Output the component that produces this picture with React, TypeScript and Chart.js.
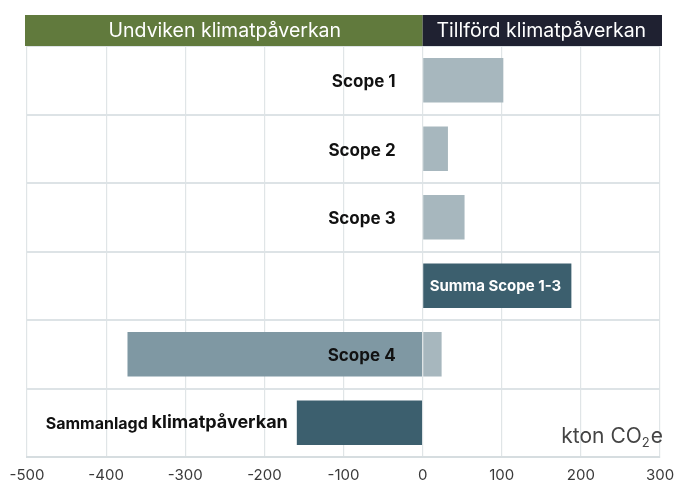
import React, { useEffect, useRef } from "react";
import { Chart, registerables } from "chart.js";

Chart.register(...registerables);

const categories = [
  "Scope 1",
  "Scope 2",
  "Scope 3",
  "Summa Scope 1-3",
  "Scope 4",
  "Sammanlagd klimatpåverkan",
];
const addedValues = [102, 32, 53, null, 24, null];
const summaryValues = [null, null, null, 188, null, -159];
const avoidedValues = [null, null, null, null, -373, null];
const xMin = -500;
const xMax = 300;
const xStep = 100;
const headerLeft = "Undviken klimatpåverkan";
const headerRight = "Tillförd klimatpåverkan";
const unitMain = "kton CO";
const unitSub = "2";
const unitEnd = "e";

const FONT = "Inter, 'Noto Sans', sans-serif";

const overlayPlugin = {
  id: "overlay",
  afterDatasetsDraw(chart: any) {
    const ctx = chart.ctx;
    const xs = chart.scales.x;
    const ys = chart.scales.y;
    const area = chart.chartArea;
    const zero = xs.getPixelForValue(0);
    ctx.save();
    // header bands
    const hTop = 15;
    const hBottom = area.top;
    ctx.fillStyle = "#617a3d";
    ctx.fillRect(area.left - 2, hTop, zero - area.left + 2, hBottom - hTop);
    ctx.fillStyle = "#1f2131";
    ctx.fillRect(zero, hTop, area.right + 2 - zero, hBottom - hTop);
    ctx.fillStyle = "#ffffff";
    ctx.font = `400 19.5px ${FONT}`;
    ctx.textAlign = "center";
    ctx.textBaseline = "middle";
    ctx.fillText(headerLeft, (area.left + zero) / 2, (hTop + hBottom) / 2 + 1);
    ctx.fillText(headerRight, (zero + area.right) / 2, (hTop + hBottom) / 2 + 1);

    // category labels
    categories.forEach((label, i) => {
      const y = ys.getPixelForValue(i) + 2;
      if (i === 3) {
        ctx.fillStyle = "#ffffff";
        ctx.font = `700 15px ${FONT}`;
        ctx.textAlign = "left";
        ctx.fillText(label, zero + 7, y - 1);
      } else if (i === 5) {
        const v = summaryValues[i] as number;
        const endX = xs.getPixelForValue(v) - 9;
        const parts = label.split(" ");
        ctx.fillStyle = "#111111";
        ctx.textAlign = "right";
        ctx.font = `700 18px ${FONT}`;
        const second = parts.slice(1).join(" ");
        const w2 = ctx.measureText(second).width;
        ctx.fillText(second, endX, y - 2);
        ctx.font = `700 16px ${FONT}`;
        ctx.fillText(parts[0] + " ", endX - w2, y - 1);
      } else {
        ctx.fillStyle = "#111111";
        ctx.font = `700 17px ${FONT}`;
        ctx.textAlign = "right";
        ctx.fillText(label, zero - 27, y);
      }
    });

    // unit label with subscript
    ctx.fillStyle = "#444444";
    ctx.textAlign = "left";
    const uy = ys.getPixelForValue(5) + 14;
    const big = `400 21px ${FONT}`;
    const small = `400 13px ${FONT}`;
    ctx.font = big;
    const wMain = ctx.measureText(unitMain).width;
    const wEnd = ctx.measureText(unitEnd).width;
    ctx.font = small;
    const wSub = ctx.measureText(unitSub).width + 1;
    const startX = area.right + 3 - (wMain + wSub + wEnd);
    ctx.font = big;
    ctx.fillText(unitMain, startX, uy);
    ctx.fillText(unitEnd, startX + wMain + wSub, uy);
    ctx.font = small;
    ctx.fillText(unitSub, startX + wMain, uy + 6);
    ctx.restore();
  },
};

export default function App() {
  const ref = useRef<HTMLCanvasElement | null>(null);
  useEffect(() => {
    if (!ref.current) return;
    const chart = new Chart(ref.current, {
      type: "bar",
      data: {
        labels: categories,
        datasets: [
          {
            data: addedValues as any,
            backgroundColor: "#a7b7be",
            barPercentage: 0.65,
            categoryPercentage: 1,
          },
          {
            data: summaryValues as any,
            backgroundColor: "#3c5f6e",
            barPercentage: 0.65,
            categoryPercentage: 1,
          },
          {
            data: avoidedValues as any,
            backgroundColor: "#7f98a3",
            barPercentage: 0.65,
            categoryPercentage: 1,
          },
        ],
      },
      options: {
        indexAxis: "y",
        responsive: false,
        animation: false,
        layout: { padding: { left: 27, right: 15, top: 46, bottom: 0 } },
        plugins: {
          legend: { display: false },
          tooltip: { enabled: false },
        },
        scales: {
          x: {
            type: "linear",
            stacked: true,
            min: xMin,
            max: xMax,
            ticks: {
              stepSize: xStep,
              color: "#3a3a3a",
              font: { family: FONT, size: 15 },
              padding: 9,
            },
            grid: { color: "#e0e5e7", drawTicks: false, lineWidth: 1.2 },
            border: { color: "#d6dde0", width: 2 },
            afterFit: (scale: any) => {
              scale.height = 25;
              scale.paddingLeft = 0;
              scale.paddingRight = 0;
            },
          },
          y: {
            type: "category",
            stacked: true,
            ticks: { display: false },
            grid: { color: "#dde3e6", drawTicks: false, lineWidth: 2, offset: true },
            border: { display: false },
            afterFit: (scale: any) => {
              scale.width = 0;
              scale.paddingTop = 0;
              scale.paddingBottom = 0;
            },
          },
        },
      },
      plugins: [overlayPlugin],
    });
    return () => chart.destroy();
  }, []);
  return (
    <div style={{ position: "absolute", left: 0, top: 0, width: 675, height: 482, background: "#fff" }}>
      <canvas ref={ref} width={675} height={482} style={{ display: "block" }} />
    </div>
  );
}
